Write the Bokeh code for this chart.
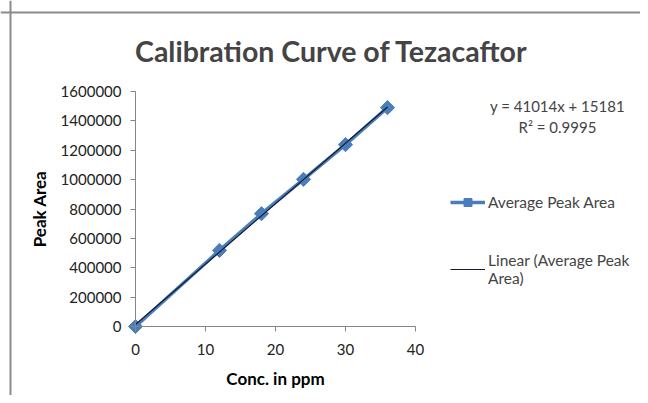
from bokeh.plotting import figure
from bokeh.models import (Range1d, FixedTicker, NumeralTickFormatter, Label, LinearAxis,
                          Legend, LegendItem, ColumnDataSource, Span)
from bokeh.embed import file_html
from bokeh.resources import INLINE
import numpy as np

# ---- data ----
conc = [0, 12, 18, 24, 30, 36]
peak_area = [0, 518000, 768000, 1002000, 1238000, 1490000]
x_ticks = [0, 10, 20, 30, 40]
y_ticks = [0, 200000, 400000, 600000, 800000, 1000000, 1200000, 1400000, 1600000]
title_text = "Calibration Curve of Tezacaftor"
x_label = "Conc. in ppm"
y_label = "Peak Area"
series_name = "Average Peak Area"
trend_name = "Linear (Average Peak\nArea)"
eq_text = "y = 41014x + 15181"
r2_text = "R² = 0.9995"

FONT = "Lato"
BLUE = "#4a7ebb"
AX = "#868686"

# trend line from least-squares fit of the data
slope, intercept = np.polyfit(conc, peak_area, 1)
tx = [min(conc), max(conc)]
ty = [slope * v + intercept for v in tx]

# frame covers the whole canvas; axes are pinned at 0 inside it
W, H = 640, 395
OX, OY = 135, 326   # canvas pixel of the data origin
PXX = 7.0           # px per x unit
PXY = 235 / 1.6e6   # px per y unit
p = figure(width=W, height=H, output_backend="svg", toolbar_location=None,
           x_range=Range1d(-OX / PXX, (W - OX) / PXX),
           y_range=Range1d(-(H - OY) / PXY, OY / PXY),
           x_axis_location=None, y_axis_location=None,
           min_border=0)
p.outline_line_color = None
p.xgrid.visible = False
p.ygrid.visible = False

xa = LinearAxis(fixed_location=0, bounds=(0, 40), ticker=FixedTicker(ticks=x_ticks),
                axis_label=x_label)
ya = LinearAxis(fixed_location=0, bounds=(0, 1600000), ticker=FixedTicker(ticks=y_ticks),
                formatter=NumeralTickFormatter(format="0"), axis_label=y_label)
for ax in (xa, ya):
    ax.axis_line_color = AX
    ax.major_tick_line_color = AX
    ax.minor_tick_line_color = None
    ax.major_tick_in = 0
    ax.major_tick_out = 5
    ax.major_label_text_font = FONT
    ax.major_label_text_font_size = "15px"
    ax.major_label_text_color = "#222222"
    ax.axis_label_text_font = FONT
    ax.axis_label_text_font_style = "bold"
    ax.axis_label_text_font_size = "17px"
    ax.axis_label_text_color = "#000000"
xa.major_label_standoff = 12
ya.major_label_standoff = 9
xa.axis_label_standoff = 10
ya.axis_label_standoff = 8
p.add_layout(xa, "below")
p.add_layout(ya, "left")

# outer chart border (left and top edges)
p.add_layout(Span(location=(10 - OX) / PXX, dimension="height", line_color="#8c8c8c", line_width=2))
p.add_layout(Span(location=(OY - 12) / PXY, dimension="width", line_color="#8c8c8c", line_width=2))

src = ColumnDataSource(dict(x=conc, y=peak_area))
r_line = p.line("x", "y", source=src, line_color=BLUE, line_width=3.5)
r_pts = p.scatter("x", "y", source=src, marker="square", angle=np.pi / 4, size=10,
                  fill_color=BLUE, line_color=BLUE)
r_trend = p.line(tx, ty, line_color="#1a1a2a", line_width=1.2)

# title and equation as text annotations
p.add_layout(Label(x=(331 - OX) / PXX, y=(OY - 50) / PXY, text=title_text, text_font=FONT,
                   text_font_style="bold", text_font_size="28.5px",
                   text_align="center", text_baseline="middle"))
p.add_layout(Label(x=(557 - OX) / PXX, y=(OY - 105) / PXY, text=eq_text, text_font=FONT,
                   text_font_size="15px", text_align="center", text_baseline="middle"))
p.add_layout(Label(x=(557 - OX) / PXX, y=(OY - 126) / PXY, text=r2_text, text_font=FONT,
                   text_font_size="15px", text_align="center", text_baseline="middle"))

legend = Legend(items=[LegendItem(label=series_name, renderers=[r_line, r_pts]),
                       LegendItem(label=trend_name, renderers=[r_trend])],
                location=(450, 108), orientation="vertical",
                border_line_color=None, background_fill_alpha=0,
                label_text_font=FONT, label_text_font_size="15.5px",
                glyph_width=35, spacing=39, label_standoff=3, padding=0, margin=0)
p.add_layout(legend, "center")

open("out.html", "w").write(file_html(p, INLINE))
